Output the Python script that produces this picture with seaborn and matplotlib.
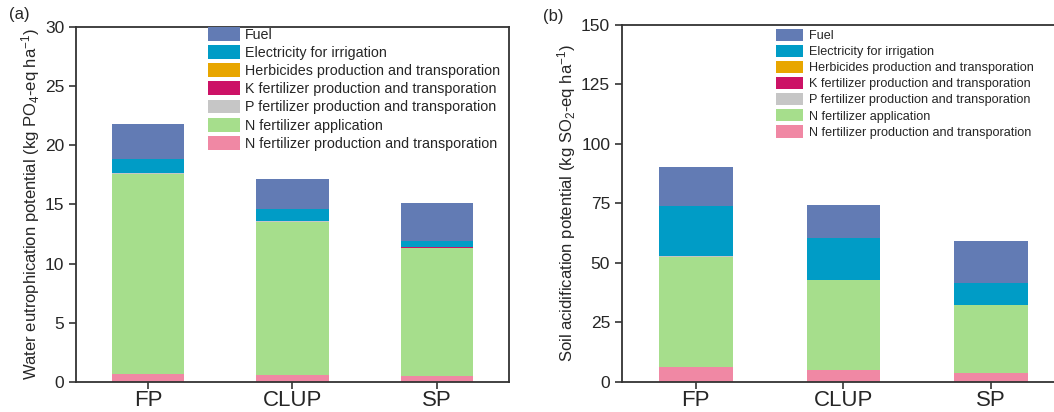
import numpy as np
import matplotlib
matplotlib.use("Agg")
import matplotlib.pyplot as plt
import seaborn as sns

systems = ["FP", "CLUP", "SP"]

# components listed bottom -> top of the stack
components = [
    "N fertilizer production and transporation",
    "N fertilizer application",
    "P fertilizer production and transporation",
    "K fertilizer production and transporation",
    "Herbicides production and transporation",
    "Electricity for irrigation",
    "Fuel",
]
colors = ["#F088A4", "#A6DE8C", "#C6C6C6", "#CC1266", "#E8A600", "#009CC6", "#627BB4"]

# water eutrophication (kg PO4-eq/ha)
water_n_prod = [0.71, 0.56, 0.48]
water_n_app = [16.90, 13.00, 10.87]
water_p = [0.01, 0.01, 0.01]
water_k = [0.01, 0.01, 0.01]
water_herb = [0.02, 0.02, 0.01]
water_elec = [1.17, 0.99, 0.53]
water_fuel = [3.02, 2.54, 3.19]

# soil acidification (kg SO2-eq/ha)
soil_n_prod = [6.27, 4.74, 3.76]
soil_n_app = [46.3, 37.8, 28.3]
soil_p = [0.05, 0.05, 0.04]
soil_k = [0.05, 0.05, 0.04]
soil_herb = [0.15, 0.12, 0.10]
soil_elec = [20.98, 17.41, 9.16]
soil_fuel = [16.45, 14.03, 17.65]

water = [water_n_prod, water_n_app, water_p, water_k, water_herb, water_elec, water_fuel]
soil = [soil_n_prod, soil_n_app, soil_p, soil_k, soil_herb, soil_elec, soil_fuel]

sns.set_style("ticks")
plt.rcParams["font.family"] = ["Liberation Sans", "DejaVu Sans"]
plt.rcParams["mathtext.default"] = "regular"


def stacked(ax, layers, ylim, yticks, ylabel, legend_fs, legend_loc, spacing):
    cum = np.cumsum(np.array(layers), axis=0)
    # draw the tallest cumulative first, then cover with lower ones
    for i in range(len(components) - 1, -1, -1):
        sns.barplot(x=systems, y=cum[i], color=colors[i], saturation=1,
                    width=0.5, linewidth=0, label=components[i], ax=ax)
    ax.set_xlim(-0.5, 2.5)
    ax.set_ylim(*ylim)
    ax.set_yticks(yticks)
    ax.set_ylabel(ylabel, fontsize=12, labelpad=2)
    ax.tick_params(axis="x", labelsize=16, length=5, width=1.2, color="#333333", pad=1)
    ax.tick_params(axis="y", labelsize=12.5, length=5, width=1.2, color="#333333")
    for sp in ax.spines.values():
        sp.set_linewidth(1.3)
        sp.set_color("#333333")
    ax.legend(loc="upper left", bbox_to_anchor=legend_loc, frameon=False,
              fontsize=legend_fs, handlelength=2.2, handleheight=1.1,
              labelspacing=spacing, handletextpad=0.4, borderaxespad=0,
              borderpad=0)


fig = plt.figure(figsize=(10.54, 4.12), dpi=100)
ax1 = fig.add_axes([0.0721, 0.0728, 0.4108, 0.8617])
ax2 = fig.add_axes([0.5901, 0.0740, 0.4203, 0.8654])

stacked(ax1, water, (0, 30), range(0, 31, 5),
        "Water eutrophication potential (kg PO$_4$-eq ha$^{-1}$)",
        10.3, (0.305, 1.0), 0.24)
stacked(ax2, soil, (0, 150), range(0, 151, 25),
        "Soil acidification potential (kg SO$_2$-eq ha$^{-1}$)",
        9.1, (0.347, 0.99), 0.22)

fig.text(0.009, 0.955, "(a)", fontsize=12)
fig.text(0.515, 0.948, "(b)", fontsize=12)

fig.savefig("out.png", dpi=100)
